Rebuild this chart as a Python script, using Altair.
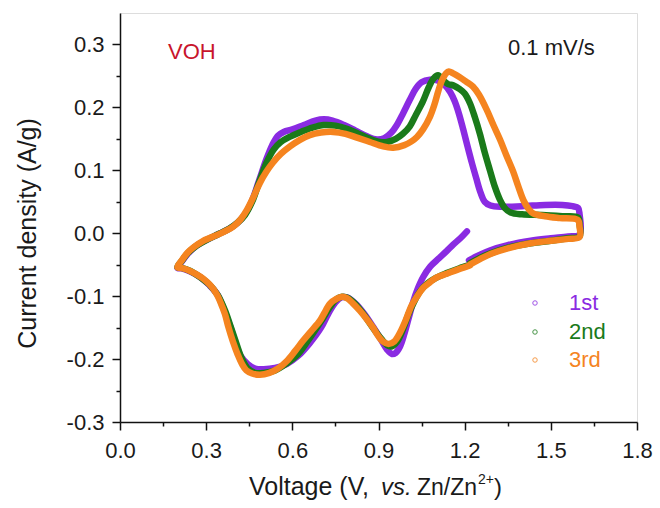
import altair as alt
import pandas as pd

# ---------------- data ----------------
cycle1_v = [1.208, 1.185, 1.160, 1.138, 1.110, 1.080, 1.055, 1.035, 1.020, 1.005, 0.990, 0.975, 0.960, 0.947, 0.930, 0.910,
            0.880, 0.850, 0.820, 0.790, 0.770, 0.750, 0.725, 0.700, 0.660, 0.620, 0.580, 0.540, 0.500, 0.470, 0.445,
            0.420, 0.400, 0.385, 0.365, 0.340, 0.310, 0.280, 0.245, 0.215, 0.200,
            0.215, 0.235, 0.260, 0.300, 0.340, 0.380, 0.410, 0.435, 0.460, 0.485, 0.510, 0.530, 0.550, 0.570, 0.600,
            0.640, 0.680, 0.710, 0.740, 0.780, 0.820, 0.860, 0.894, 0.920, 0.945, 0.964, 0.985, 1.009, 1.030, 1.050,
            1.079, 1.105, 1.130, 1.150, 1.165, 1.180, 1.195, 1.210, 1.225, 1.240, 1.255, 1.270, 1.290, 1.330, 1.400,
            1.480, 1.540, 1.575, 1.595, 1.600,
            1.600, 1.560, 1.500, 1.430, 1.350, 1.290, 1.250, 1.215]
cycle1_i = [0.003, -0.008, -0.018, -0.028, -0.040, -0.053, -0.070, -0.090, -0.110, -0.135, -0.160, -0.180, -0.190, -0.192,
            -0.185, -0.170, -0.148, -0.128, -0.112, -0.102, -0.102, -0.110, -0.128, -0.150, -0.175, -0.195, -0.208,
            -0.214, -0.216, -0.215, -0.208, -0.195, -0.172, -0.150, -0.125, -0.098, -0.082, -0.070, -0.061, -0.056,
            -0.055,
            -0.045, -0.033, -0.022, -0.011, -0.002, 0.007, 0.017, 0.030, 0.052, 0.085, 0.118, 0.140, 0.155, 0.161,
            0.165, 0.172, 0.179, 0.181, 0.179, 0.172, 0.163, 0.154, 0.149, 0.151, 0.160, 0.172, 0.190, 0.212, 0.230,
            0.240, 0.244, 0.243, 0.236, 0.224, 0.210, 0.190, 0.165, 0.138, 0.112, 0.088, 0.065, 0.050, 0.044, 0.042,
            0.043, 0.045, 0.045, 0.043, 0.040, 0.030,
            -0.002, -0.005, -0.008, -0.012, -0.019, -0.027, -0.035, -0.043]

cycle2_v = [1.218, 1.180, 1.140, 1.100, 1.070, 1.045, 1.025, 1.005, 0.985, 0.965, 0.945, 0.930, 0.910, 0.880, 0.850,
            0.820, 0.795, 0.773, 0.750, 0.730, 0.700, 0.660, 0.620, 0.580, 0.540, 0.500, 0.470, 0.445, 0.425, 0.405,
            0.385, 0.365, 0.340, 0.310, 0.280, 0.245, 0.215, 0.200,
            0.215, 0.235, 0.260, 0.300, 0.340, 0.380, 0.410, 0.435, 0.460, 0.485, 0.510, 0.535, 0.560, 0.590, 0.630,
            0.670, 0.710, 0.750, 0.790, 0.830, 0.870, 0.905, 0.930, 0.960, 0.985, 1.009, 1.030, 1.055, 1.075, 1.092,
            1.107, 1.125, 1.142, 1.160, 1.183, 1.200, 1.218, 1.235, 1.253, 1.270, 1.288, 1.305, 1.323, 1.340, 1.360,
            1.400, 1.470, 1.540, 1.595, 1.600,
            1.600, 1.560, 1.500, 1.430, 1.350, 1.290, 1.250, 1.218]
cycle2_i = [-0.050, -0.056, -0.063, -0.071, -0.080, -0.092, -0.108, -0.128, -0.153, -0.172, -0.180, -0.178, -0.168,
            -0.150, -0.130, -0.113, -0.103, -0.101, -0.106, -0.118, -0.140, -0.167, -0.192, -0.207, -0.218, -0.222,
            -0.222, -0.215, -0.200, -0.175, -0.148, -0.122, -0.098, -0.081, -0.070, -0.060, -0.055, -0.054,
            -0.044, -0.032, -0.022, -0.011, -0.002, 0.007, 0.017, 0.029, 0.050, 0.082, 0.112, 0.133, 0.145, 0.153,
            0.161, 0.168, 0.172, 0.171, 0.166, 0.158, 0.150, 0.145, 0.145, 0.150, 0.158, 0.170, 0.188, 0.210, 0.232,
            0.246, 0.251, 0.243, 0.237, 0.235, 0.229, 0.222, 0.207, 0.185, 0.158, 0.128, 0.100, 0.074, 0.053, 0.040,
            0.033, 0.030, 0.029, 0.027, 0.025, 0.015,
            -0.005, -0.008, -0.012, -0.016, -0.023, -0.032, -0.040, -0.048]

cycle3_v = [1.218, 1.180, 1.140, 1.100, 1.079, 1.055, 1.035, 1.015, 0.995, 0.975, 0.955, 0.935, 0.915, 0.900, 0.881,
            0.860, 0.835, 0.810, 0.790, 0.773, 0.755, 0.731, 0.710, 0.696, 0.665, 0.637, 0.610, 0.581, 0.550, 0.520,
            0.487, 0.460, 0.440, 0.425, 0.410, 0.393, 0.378, 0.365, 0.350, 0.337, 0.315, 0.289, 0.265, 0.244, 0.220,
            0.200,
            0.215, 0.235, 0.254, 0.290, 0.337, 0.365, 0.393, 0.420, 0.442, 0.465, 0.487, 0.510, 0.532, 0.560, 0.592,
            0.625, 0.661, 0.700, 0.742, 0.785, 0.825, 0.870, 0.916, 0.951, 0.990, 1.015, 1.034, 1.055, 1.079, 1.095,
            1.107, 1.120, 1.135, 1.145, 1.160, 1.183, 1.205, 1.229, 1.250, 1.277, 1.300, 1.323, 1.345, 1.368, 1.387,
            1.405, 1.422, 1.440, 1.480, 1.531, 1.594, 1.600,
            1.600, 1.560, 1.500, 1.430, 1.350, 1.290, 1.250, 1.218]
cycle3_i = [-0.051, -0.057, -0.064, -0.071, -0.078, -0.087, -0.100, -0.115, -0.138, -0.158, -0.172, -0.176, -0.172,
            -0.164, -0.150, -0.137, -0.123, -0.111, -0.103, -0.101, -0.104, -0.112, -0.128, -0.139, -0.156, -0.171,
            -0.187, -0.203, -0.215, -0.222, -0.225, -0.223, -0.218, -0.208, -0.193, -0.172, -0.150, -0.128, -0.110,
            -0.097, -0.083, -0.072, -0.065, -0.060, -0.056, -0.054,
            -0.043, -0.031, -0.023, -0.012, -0.003, 0.003, 0.010, 0.022, 0.037, 0.058, 0.080, 0.098, 0.112, 0.126,
            0.138, 0.148, 0.156, 0.160, 0.161, 0.158, 0.152, 0.145, 0.138, 0.136, 0.140, 0.146, 0.153, 0.165, 0.185,
            0.205, 0.224, 0.242, 0.254, 0.257, 0.254, 0.248, 0.241, 0.233, 0.220, 0.196, 0.172, 0.149, 0.124, 0.099,
            0.074, 0.052, 0.039, 0.031, 0.027, 0.024, 0.021, 0.010,
            -0.006, -0.009, -0.012, -0.016, -0.024, -0.033, -0.042, -0.050]

cycle_labels = ["1st", "2nd", "3rd"]
cycle_colors = ["#8A2BE2", "#1A7A1A", "#F5841F"]

x_major = [0.0, 0.3, 0.6, 0.9, 1.2, 1.5, 1.8]
x_minor = [0.15, 0.45, 0.75, 1.05, 1.35, 1.65]
y_major = [-0.3, -0.2, -0.1, 0.0, 0.1, 0.2, 0.3]
y_minor = [-0.25, -0.15, -0.05, 0.05, 0.15, 0.25]

FONT = "Liberation Sans"

# ---------------- encodings ----------------
x_axis = alt.Axis(
    values=sorted(x_major + x_minor),
    labelExpr="abs(datum.value/0.3 - round(datum.value/0.3)) < 0.001 ? format(datum.value, '.1f') : ''",
    tickSize={"condition": {"test": "abs(datum.value/0.3 - round(datum.value/0.3)) < 0.001", "value": 8}, "value": 4},
    title=None, grid=False, labelFont=FONT, labelFontSize=22, labelColor="#1a1a1a",
    labelFlush=False, labelOverlap=False, labelPadding=10, tickColor="#111", tickWidth=1.5,
    domainColor="#111", domainWidth=1.5,
)
y_axis = alt.Axis(
    values=sorted(y_major + y_minor),
    labelExpr="abs(datum.value*10 - round(datum.value*10)) < 0.001 ? replace(format(datum.value, '.1f'), '\u2212', '-') : ''",
    tickSize={"condition": {"test": "abs(datum.value*10 - round(datum.value*10)) < 0.001", "value": 8}, "value": 4},
    title="Current density (A/g)", titleFont=FONT, titleFontSize=25, titleFontWeight="normal", titleColor="#1a1a1a",
    titleAngle=270, titleX=-85, titleY=220, titleBaseline="alphabetic", titleAlign="center",
    grid=False, labelFont=FONT, labelFontSize=22, labelColor="#1a1a1a",
    labelFlush=False, labelOverlap=False, labelPadding=8, tickColor="#111", tickWidth=1.5,
    domainColor="#111", domainWidth=1.5,
)
x_enc = alt.X("V:Q", scale=alt.Scale(domain=[0, 1.8], nice=False, zero=False), axis=x_axis)
y_enc = alt.Y("I:Q", scale=alt.Scale(domain=[-0.3, 0.35], nice=False, zero=False), axis=y_axis)


def cycle_layer(vs, cs, color):
    df = pd.DataFrame({"V": vs, "I": cs, "k": list(range(len(vs)))})
    return alt.Chart(df).mark_line(
        strokeWidth=6.5, interpolate="catmull-rom", color=color, strokeCap="round", strokeJoin="round"
    ).encode(x=x_enc, y=y_enc, order=alt.Order("k:Q"))


layers = [
    cycle_layer(cycle1_v, cycle1_i, cycle_colors[0]),
    cycle_layer(cycle2_v, cycle2_i, cycle_colors[1]),
    cycle_layer(cycle3_v, cycle3_i, cycle_colors[2]),
]


def text_layer(txt, x, y, size=22, color="#1a1a1a", style="normal", align="left", baseline="middle"):
    return alt.Chart(pd.DataFrame({"t": [txt]})).mark_text(
        font=FONT, fontSize=size, color=color, fontStyle=style, align=align, baseline=baseline
    ).encode(text="t:N", x=alt.value(x), y=alt.value(y))


# annotations
layers.append(text_layer("VOH", 48, 39, color="#C8142C"))
layers.append(text_layer("0.1 mV/s", 388, 35))

# manual legend
leg_y = [290, 319, 347]
for lab, col, yy in zip(cycle_labels, cycle_colors, leg_y):
    layers.append(
        alt.Chart(pd.DataFrame({"t": [lab]})).mark_point(
            shape="circle", filled=False, size=20, strokeWidth=1, color=col, opacity=0.8
        ).encode(x=alt.value(415), y=alt.value(yy))
    )
    layers.append(text_layer(lab, 449, yy, color=col))

# x-axis title with italic "vs." and superscript (x positions relative to plot left edge)
base_y = 482
layers.append(text_layer("Voltage (V,", 129, base_y, size=25, baseline="alphabetic"))
layers.append(text_layer("vs.", 261, base_y, size=24, style="italic", baseline="alphabetic"))
layers.append(text_layer("Zn/Zn", 297, base_y, size=23, baseline="alphabetic"))
layers.append(text_layer("2+", 358, base_y - 11, size=14, baseline="alphabetic"))
layers.append(text_layer(")", 374, base_y, size=24, baseline="alphabetic"))

chart = alt.layer(*layers).properties(
    width=517, height=409,
    autosize=alt.AutoSizeParams(type="none"),
    padding={"left": 120, "top": 13, "right": 23, "bottom": 86},
).configure_view(stroke="#111", strokeWidth=1.5).configure(background="white")

chart.save("out.html", embed_options={"renderer": "svg", "actions": False})
